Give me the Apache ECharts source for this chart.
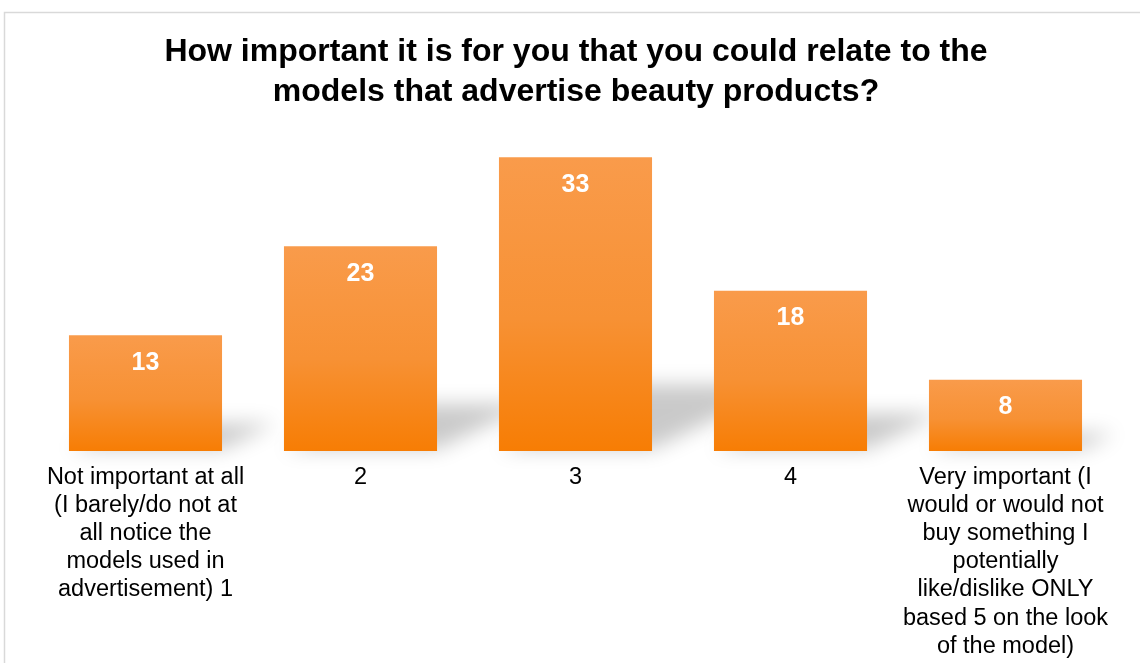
<!DOCTYPE html>
<html>
<head>
<meta charset="utf-8">
<title>How important it is to relate to beauty-product models</title>
<script src="https://cdn.jsdelivr.net/npm/echarts@6/dist/echarts.min.js"></script>
<style>
  html, body { margin: 0; padding: 0; background: #ffffff; }
  #chart { width: 1140px; height: 663px; }
</style>
</head>
<body>
<div id="chart"></div>
<script>
// Survey answers on a 1–5 importance scale
const titleText = 'How important it is for you that you could relate to the\nmodels that advertise beauty products?';
const categories = [
  'Not important at all\n(I barely/do not at\nall notice the\nmodels used in\nadvertisement) 1',
  '2',
  '3',
  '4',
  'Very important (I\nwould or would not\nbuy something I\npotentially\nlike/dislike ONLY\nbased 5 on the look\nof the model)'
];
const responses = [13, 23, 33, 18, 8];

const FONT = '"Liberation Sans", Arial, Helvetica, sans-serif';
const chart = echarts.init(document.getElementById('chart'), null, { renderer: 'canvas' });

// Soft perspective "floor" shadow cast up and to the right of each bar.
// The polygon itself is drawn far off to the left and only its blurred
// canvas shadow is shifted back into place.
const SHIFT = 4000;
function renderShadow(params, api) {
  const idx = api.value(0);
  const val = api.value(1);
  const base = api.coord([idx, 0]);
  const top = api.coord([idx, val]);
  const band = api.size([1, 0])[0];
  const half = band * 0.712 / 2;
  const h = base[1] - top[1];
  const dy = h * 0.22;
  const dx = dy * 2.1;
  const xl = base[0] - half, xr = base[0] + half, y0 = base[1] - 2;
  return {
    type: 'polygon',
    shape: {
      points: [
        [xl - SHIFT, y0],
        [xr - SHIFT, y0],
        [xr + dx - SHIFT, y0 - dy],
        [xl + dx - SHIFT, y0 - dy]
      ]
    },
    style: {
      fill: '#000',
      shadowColor: 'rgba(0,0,0,0.21)',
      shadowBlur: 20,
      shadowOffsetX: SHIFT,
      shadowOffsetY: 0
    },
    silent: true
  };
}

chart.setOption({
  backgroundColor: '#ffffff',
  animation: false,
  title: {
    text: titleText,
    left: 571,
    top: 27,
    textAlign: 'center',
    textStyle: {
      fontFamily: FONT,
      fontSize: 32,
      fontWeight: 'bold',
      color: '#000000',
      lineHeight: 40
    }
  },
  graphic: [{
    type: 'rect',
    shape: { x: 4.5, y: 12.5, width: 1300, height: 800 },
    style: { fill: 'none', stroke: '#d9d9d9', lineWidth: 1.5 },
    silent: true,
    z: -10
  }],
  grid: { left: 38, right: 27, top: 95, bottom: 212 },
  xAxis: {
    type: 'category',
    data: categories,
    axisLine: { show: false },
    axisTick: { show: false },
    axisLabel: {
      interval: 0,
      margin: 12,
      fontFamily: FONT,
      fontSize: 23.5,
      lineHeight: 28.2,
      color: '#000000',
      align: 'center'
    }
  },
  yAxis: {
    type: 'value',
    min: 0,
    max: 40,
    show: false,
    splitLine: { show: false }
  },
  series: [
    {
      type: 'custom',
      renderItem: renderShadow,
      data: responses.map((v, i) => [i, v]),
      encode: { x: 0, y: 1 },
      clip: false,
      z: 1,
      silent: true
    },
    {
      type: 'bar',
      data: responses,
      barWidth: '71.2%',
      z: 5,
      itemStyle: {
        color: new echarts.graphic.LinearGradient(0, 0, 0, 1, [
          { offset: 0, color: '#f99b4b' },
          { offset: 0.55, color: '#f79134' },
          { offset: 1, color: '#f77d04' }
        ])
      },
      label: {
        show: true,
        position: 'insideTop',
        distance: 15,
        color: '#ffffff',
        fontFamily: FONT,
        fontSize: 25,
        fontWeight: 'bold'
      }
    }
  ]
});
</script>
</body>
</html>
